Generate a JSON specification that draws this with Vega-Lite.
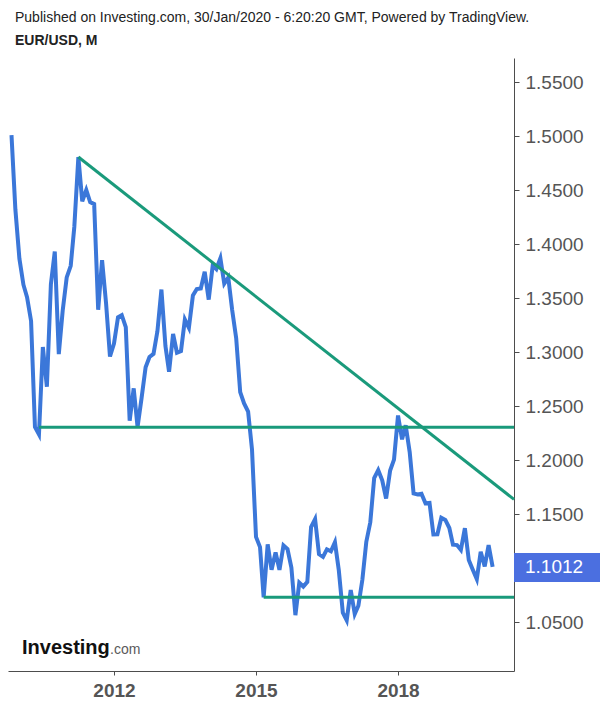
{
  "$schema": "https://vega.github.io/schema/vega-lite/v6.json",
  "autosize": {"type": "none"},
  "width": 506,
  "height": 613,
  "padding": {"left": 8, "top": 58, "right": 86, "bottom": 37},
  "background": "white",
  "view": {"stroke": null},
  "config": {"font": "Liberation Sans"},
  "title": {
    "text": "Published on Investing.com, 30/Jan/2020 - 6:20:20 GMT, Powered by TradingView.",
    "subtitle": "EUR/USD, M",
    "anchor": "start",
    "frame": "group",
    "dx": 7,
    "offset": 10,
    "font": "Liberation Sans",
    "fontSize": 14,
    "fontWeight": "normal",
    "color": "#222222",
    "subtitleFont": "Liberation Sans",
    "subtitleFontSize": 14,
    "subtitleFontWeight": "bold",
    "subtitleColor": "#222222",
    "subtitlePadding": 9
  },
  "datasets": {
    "prices": [
      {"date": "2009-11-01", "close": 1.5010},
      {"date": "2009-12-01", "close": 1.4321},
      {"date": "2010-01-01", "close": 1.3866},
      {"date": "2010-02-01", "close": 1.3625},
      {"date": "2010-03-01", "close": 1.3510},
      {"date": "2010-04-01", "close": 1.3290},
      {"date": "2010-05-01", "close": 1.2307},
      {"date": "2010-06-01", "close": 1.2238},
      {"date": "2010-07-01", "close": 1.3048},
      {"date": "2010-08-01", "close": 1.2680},
      {"date": "2010-09-01", "close": 1.3630},
      {"date": "2010-10-01", "close": 1.3932},
      {"date": "2010-11-01", "close": 1.2982},
      {"date": "2010-12-01", "close": 1.3384},
      {"date": "2011-01-01", "close": 1.3692},
      {"date": "2011-02-01", "close": 1.3800},
      {"date": "2011-03-01", "close": 1.4164},
      {"date": "2011-04-01", "close": 1.4807},
      {"date": "2011-05-01", "close": 1.4398},
      {"date": "2011-06-01", "close": 1.4502},
      {"date": "2011-07-01", "close": 1.4390},
      {"date": "2011-08-01", "close": 1.4371},
      {"date": "2011-09-01", "close": 1.3393},
      {"date": "2011-10-01", "close": 1.3853},
      {"date": "2011-11-01", "close": 1.3450},
      {"date": "2011-12-01", "close": 1.2960},
      {"date": "2012-01-01", "close": 1.3080},
      {"date": "2012-02-01", "close": 1.3323},
      {"date": "2012-03-01", "close": 1.3343},
      {"date": "2012-04-01", "close": 1.3233},
      {"date": "2012-05-01", "close": 1.2366},
      {"date": "2012-06-01", "close": 1.2665},
      {"date": "2012-07-01", "close": 1.2307},
      {"date": "2012-08-01", "close": 1.2577},
      {"date": "2012-09-01", "close": 1.2860},
      {"date": "2012-10-01", "close": 1.2955},
      {"date": "2012-11-01", "close": 1.2985},
      {"date": "2012-12-01", "close": 1.3193},
      {"date": "2013-01-01", "close": 1.3580},
      {"date": "2013-02-01", "close": 1.3056},
      {"date": "2013-03-01", "close": 1.2819},
      {"date": "2013-04-01", "close": 1.3169},
      {"date": "2013-05-01", "close": 1.2995},
      {"date": "2013-06-01", "close": 1.3010},
      {"date": "2013-07-01", "close": 1.3302},
      {"date": "2013-08-01", "close": 1.3225},
      {"date": "2013-09-01", "close": 1.3525},
      {"date": "2013-10-01", "close": 1.3585},
      {"date": "2013-11-01", "close": 1.3590},
      {"date": "2013-12-01", "close": 1.3745},
      {"date": "2014-01-01", "close": 1.3487},
      {"date": "2014-02-01", "close": 1.3804},
      {"date": "2014-03-01", "close": 1.3770},
      {"date": "2014-04-01", "close": 1.3870},
      {"date": "2014-05-01", "close": 1.3635},
      {"date": "2014-06-01", "close": 1.3690},
      {"date": "2014-07-01", "close": 1.3390},
      {"date": "2014-08-01", "close": 1.3130},
      {"date": "2014-09-01", "close": 1.2630},
      {"date": "2014-10-01", "close": 1.2525},
      {"date": "2014-11-01", "close": 1.2450},
      {"date": "2014-12-01", "close": 1.2100},
      {"date": "2015-01-01", "close": 1.1290},
      {"date": "2015-02-01", "close": 1.1195},
      {"date": "2015-03-01", "close": 1.0731},
      {"date": "2015-04-01", "close": 1.1220},
      {"date": "2015-05-01", "close": 1.0985},
      {"date": "2015-06-01", "close": 1.1146},
      {"date": "2015-07-01", "close": 1.0985},
      {"date": "2015-08-01", "close": 1.1211},
      {"date": "2015-09-01", "close": 1.1177},
      {"date": "2015-10-01", "close": 1.1005},
      {"date": "2015-11-01", "close": 1.0565},
      {"date": "2015-12-01", "close": 1.0865},
      {"date": "2016-01-01", "close": 1.0830},
      {"date": "2016-02-01", "close": 1.0873},
      {"date": "2016-03-01", "close": 1.1380},
      {"date": "2016-04-01", "close": 1.1454},
      {"date": "2016-05-01", "close": 1.1130},
      {"date": "2016-06-01", "close": 1.1105},
      {"date": "2016-07-01", "close": 1.1175},
      {"date": "2016-08-01", "close": 1.1157},
      {"date": "2016-09-01", "close": 1.1240},
      {"date": "2016-10-01", "close": 1.0980},
      {"date": "2016-11-01", "close": 1.0588},
      {"date": "2016-12-01", "close": 1.0517},
      {"date": "2017-01-01", "close": 1.0798},
      {"date": "2017-02-01", "close": 1.0575},
      {"date": "2017-03-01", "close": 1.0652},
      {"date": "2017-04-01", "close": 1.0895},
      {"date": "2017-05-01", "close": 1.1243},
      {"date": "2017-06-01", "close": 1.1425},
      {"date": "2017-07-01", "close": 1.1835},
      {"date": "2017-08-01", "close": 1.1908},
      {"date": "2017-09-01", "close": 1.1813},
      {"date": "2017-10-01", "close": 1.1645},
      {"date": "2017-11-01", "close": 1.1904},
      {"date": "2017-12-01", "close": 1.2005},
      {"date": "2018-01-01", "close": 1.2414},
      {"date": "2018-02-01", "close": 1.2193},
      {"date": "2018-03-01", "close": 1.2324},
      {"date": "2018-04-01", "close": 1.2075},
      {"date": "2018-05-01", "close": 1.1693},
      {"date": "2018-06-01", "close": 1.1683},
      {"date": "2018-07-01", "close": 1.1690},
      {"date": "2018-08-01", "close": 1.1601},
      {"date": "2018-09-01", "close": 1.1605},
      {"date": "2018-10-01", "close": 1.1313},
      {"date": "2018-11-01", "close": 1.1314},
      {"date": "2018-12-01", "close": 1.1467},
      {"date": "2019-01-01", "close": 1.1447},
      {"date": "2019-02-01", "close": 1.1372},
      {"date": "2019-03-01", "close": 1.1218},
      {"date": "2019-04-01", "close": 1.1214},
      {"date": "2019-05-01", "close": 1.1169},
      {"date": "2019-06-01", "close": 1.1370},
      {"date": "2019-07-01", "close": 1.1075},
      {"date": "2019-08-01", "close": 1.0986},
      {"date": "2019-09-01", "close": 1.0899},
      {"date": "2019-10-01", "close": 1.1153},
      {"date": "2019-11-01", "close": 1.1017},
      {"date": "2019-12-01", "close": 1.1213},
      {"date": "2020-01-01", "close": 1.1012}
    ],
    "trend": [
      {"line": "down", "date": "2011-04-01", "close": 1.4807},
      {"line": "down", "date": "2020-06-14", "close": 1.1637},
      {"line": "upper", "date": "2010-06-01", "close": 1.2305},
      {"line": "upper", "date": "2020-06-14", "close": 1.2305},
      {"line": "lower", "date": "2015-03-01", "close": 1.0731},
      {"line": "lower", "date": "2020-06-14", "close": 1.0731}
    ],
    "last": [
      {"date": "2020-01-01", "close": 1.1012}
    ]
  },
  "layer": [
    {
      "data": {"name": "prices"},
      "mark": {"type": "line", "color": "#3b77d9", "strokeWidth": 4},
      "encoding": {
        "x": {
          "field": "date",
          "type": "temporal",
          "scale": {
            "type": "utc",
            "domain": [
              {"year": 2009, "month": 10, "date": 5, "utc": true},
              {"year": 2020, "month": 6, "date": 14, "utc": true}
            ]
          },
          "axis": {
            "title": null,
            "values": [
              {"year": 2012, "month": 1, "date": 1, "utc": true},
              {"year": 2015, "month": 1, "date": 1, "utc": true},
              {"year": 2018, "month": 1, "date": 1, "utc": true}
            ],
            "format": "%Y",
            "grid": false,
            "domainColor": "#4d4d4d",
            "domainWidth": 1,
            "tickColor": "#4d4d4d",
            "tickSize": 4,
            "labelPadding": 6,
            "labelFont": "Liberation Sans",
            "labelFontSize": 19,
            "labelFontWeight": "bold",
            "labelColor": "#555555"
          }
        },
        "y": {
          "field": "close",
          "type": "quantitative",
          "scale": {"domain": [1.0048, 1.5724], "zero": false, "nice": false},
          "axis": {
            "title": null,
            "orient": "right",
            "values": [1.05, 1.15, 1.2, 1.25, 1.3, 1.35, 1.4, 1.45, 1.5, 1.55],
            "format": ".4f",
            "grid": false,
            "domainColor": "#4d4d4d",
            "domainWidth": 1,
            "tickColor": "#4d4d4d",
            "tickSize": 5,
            "labelPadding": 6,
            "labelFont": "Liberation Sans",
            "labelFontSize": 19,
            "labelColor": "#555555"
          }
        }
      }
    },
    {
      "data": {"name": "trend"},
      "mark": {"type": "line", "color": "#1a9a7b", "strokeWidth": 3},
      "encoding": {
        "x": {"field": "date", "type": "temporal"},
        "y": {"field": "close", "type": "quantitative"},
        "detail": {"field": "line"}
      }
    },
    {
      "data": {"name": "last"},
      "mark": {"type": "rect", "color": "#4b6fe0"},
      "encoding": {
        "x": {"datum": {"year": 2020, "month": 6, "date": 14, "utc": true}, "type": "temporal"},
        "x2": {"datum": {"year": 2022, "month": 5, "date": 1, "utc": true}},
        "y": {"datum": 1.1141, "type": "quantitative"},
        "y2": {"datum": 1.0872}
      }
    },
    {
      "data": {"name": "last"},
      "mark": {"type": "text", "color": "white", "align": "left", "baseline": "middle", "dx": 11, "fontSize": 19, "font": "Liberation Sans"},
      "encoding": {
        "x": {"datum": {"year": 2020, "month": 6, "date": 14, "utc": true}, "type": "temporal"},
        "y": {"field": "close", "type": "quantitative"},
        "text": {"field": "close", "type": "quantitative", "format": ".4f"}
      }
    },
    {
      "data": {"name": "last"},
      "mark": {"type": "text", "color": "#111111", "align": "left", "baseline": "alphabetic", "fontSize": 20, "fontWeight": "bold", "font": "Liberation Sans"},
      "encoding": {
        "x": {"datum": {"year": 2010, "month": 1, "date": 21, "utc": true}, "type": "temporal"},
        "y": {"datum": 1.0206, "type": "quantitative"},
        "text": {"value": "Investing"}
      }
    },
    {
      "data": {"name": "last"},
      "mark": {"type": "text", "color": "#5a5a5a", "align": "left", "baseline": "alphabetic", "fontSize": 14, "dx": 88, "font": "Liberation Sans"},
      "encoding": {
        "x": {"datum": {"year": 2010, "month": 1, "date": 21, "utc": true}, "type": "temporal"},
        "y": {"datum": 1.0206, "type": "quantitative"},
        "text": {"value": ".com"}
      }
    }
  ]
}
